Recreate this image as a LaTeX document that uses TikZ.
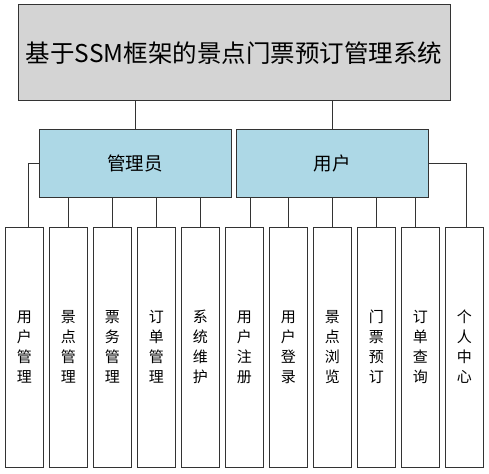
\documentclass[tikz,border=0pt]{standalone}
\usepackage{fontspec}
\setmainfont{Noto Sans CJK SC}
\begin{document}
\begin{tikzpicture}[x=1pt,y=-1pt,
  box/.style={draw=black!80,line width=1pt,inner sep=0pt},
  topbox/.style={box,fill=black!17,minimum width=432pt,minimum height=96pt,font=\fontsize{24.5}{28}\selectfont},
  midbox/.style={box,fill=cyan!30!blue!12!white,fill={rgb,255:red,173;green,216;blue,230},minimum width=192pt,minimum height=67pt,font=\fontsize{18.5}{22}\selectfont},
  leaf/.style={box,fill=white,minimum width=38.7pt,minimum height=240pt,align=center,font=\fontsize{15}{20}\selectfont},
  conn/.style={draw=black!80,line width=1pt}]
\useasboundingbox (0,0) rectangle (489,473);
\node[topbox] (top) at (234,53) {基于SSM框架的景点门票预订管理系统};
\node[midbox] (admin) at (135,163.5) {管理员};
\node[midbox] (user) at (332,163.5) {用户};
\foreach \t [count=\i] in {用\\户\\管\\理,景\\点\\管\\理,票\\务\\管\\理,订\\单\\管\\理,系\\统\\维\\护,用\\户\\注\\册,用\\户\\登\\录,景\\点\\浏\\览,门\\票\\预\\订,订\\单\\查\\询,个\\人\\中\\心}
  \node[leaf] (b\i) at ({24.35+44*(\i-1)},347) {\t};
\draw[conn] (admin.north) -- (admin.north |- top.south);
\draw[conn] (user.north) -- (user.north |- top.south);
\draw[conn] (admin.west) -| ([xshift=4pt]b1.north);
\draw[conn] (user.east) -| ([xshift=2pt]b11.north);
\foreach \i in {2,3,4,5,7,8,9}
  \draw[conn] (b\i.north) -- (b\i.north |- admin.south);
\draw[conn] ([xshift=5.7pt]b6.north) -- ([xshift=5.7pt]b6.north |- user.south);
\draw[conn] ([xshift=-5.3pt]b10.north) -- ([xshift=-5.3pt]b10.north |- user.south);
\end{tikzpicture}
\end{document}
